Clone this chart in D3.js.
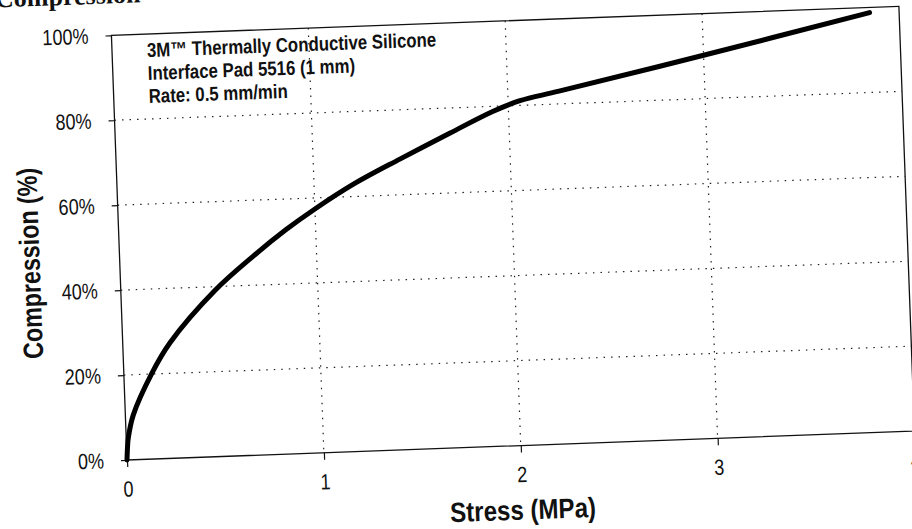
<!DOCTYPE html>
<html>
<head>
<meta charset="utf-8">
<script src="https://cdn.jsdelivr.net/npm/d3@7"></script>
<style>
  body { margin: 0; background: #fff; }
  svg { display: block; }
  .tick text { font-family: "Liberation Sans Narrow", "Arial Narrow", "Liberation Sans", sans-serif; font-size: 22px; fill: #111; }
  .tick line { stroke: #111; stroke-width: 1.2; }
  .grid line { stroke: #222; stroke-width: 1.2; stroke-dasharray: 1.5 6; }
  .axis-label { font-family: "Liberation Sans Narrow", "Arial Narrow", "Liberation Sans", sans-serif; font-weight: bold; font-size: 28px; fill: #111; }
  .note { font-family: "Liberation Sans Narrow", "Arial Narrow", "Liberation Sans", sans-serif; font-weight: bold; font-size: 20px; fill: #111; }
</style>
</head>
<body>
<div id="chart-container"></div>
<script>
// values
const stress = [0, 0.005, 0.01, 0.04, 0.14, 0.24, 0.48, 0.68, 0.85, 1.0, 1.2, 1.44, 1.70, 1.92, 2.06, 2.26, 3.0, 3.85];
const compression = [0, 3, 5, 10.5, 20, 27.2, 39.2, 46.9, 52.8, 57.4, 62.9, 68.4, 74.1, 78.8, 81.1, 83, 90.2, 98.8];
const stressTicks = [0, 1, 2, 3, 4];
const compressionTicks = [0, 20, 40, 60, 80, 100];
const noteLines = ["3M\u2122 Thermally Conductive Silicone", "Interface Pad 5516 (1 mm)", "Rate: 0.5 mm/min"];

// chart size
const margin = {top: 35, right: 0, bottom: 69, left: 127};
const width = 788;
const height = 425;

// the fonts are condensed in the scan; squeeze the text to match
function narrow(sel, k) {
  sel.each(function() {
    const len = this.getComputedTextLength();
    d3.select(this)
      .attr("textLength", len * k)
      .attr("lengthAdjust", "spacingAndGlyphs");
  });
}

const svg = d3.select("#chart-container")
  .append("svg")
    .attr("width", 912)
    .attr("height", 529);

// the scan is a little tilted, so turn the whole chart round the origin
const chart = svg.append("g")
    .attr("transform", `rotate(-2.1, ${margin.left}, ${margin.top + height})`)
  .append("g")
    .attr("transform", `translate(${margin.left}, ${margin.top})`);

const xScale = d3.scaleLinear().domain([0, 4]).range([0, width]);
const yScale = d3.scaleLinear().domain([0, 100]).range([height, 0]);

// dotted grid
const grid = chart.append("g").attr("class", "grid");
grid.selectAll(".vgrid")
  .data(stressTicks.filter(d => d > 0 && d < 4))
  .join("line")
    .attr("x1", d => xScale(d)).attr("x2", d => xScale(d))
    .attr("y1", 0).attr("y2", height);
grid.selectAll(".hgrid")
  .data(compressionTicks.filter(d => d > 0 && d < 100))
  .join("line")
    .attr("x1", 0).attr("x2", width)
    .attr("y1", d => yScale(d)).attr("y2", d => yScale(d));

// axes
const xAxis = d3.axisBottom(xScale)
  .tickValues(stressTicks)
  .tickSize(7)
  .tickPadding(14)
  .tickFormat(d3.format("d"));
chart.append("g")
  .attr("transform", `translate(0, ${height})`)
  .call(xAxis)
  .call(g => g.select(".domain").remove())
  .call(g => narrow(g.selectAll("text"), 0.82));

const yAxis = d3.axisLeft(yScale)
  .tickValues(compressionTicks)
  .tickSize(6)
  .tickPadding(17)
  .tickFormat(d => d + "%");
chart.append("g")
  .call(yAxis)
  .call(g => g.select(".domain").remove())
  .call(g => narrow(g.selectAll("text"), 0.82));

// frame
chart.append("rect")
  .attr("width", width)
  .attr("height", height)
  .attr("fill", "none")
  .attr("stroke", "#111")
  .attr("stroke-width", 1.3);

// curve
const line = d3.line()
  .x((d, i) => xScale(stress[i]))
  .y(d => yScale(d))
  .curve(d3.curveCatmullRom.alpha(0.5));
chart.append("path")
  .datum(compression)
  .attr("fill", "none")
  .attr("stroke", "#000")
  .attr("stroke-width", 5)
  .attr("stroke-linecap", "round")
  .attr("d", line);

// note in the corner
chart.selectAll(".note")
  .data(noteLines)
  .join("text")
    .attr("class", "note")
    .attr("x", 35)
    .attr("y", (d, i) => 23 + i * 23)
    .text(d => d)
    .call(sel => narrow(sel, 0.84));

// axis titles
chart.append("text")
  .attr("class", "axis-label")
  .attr("transform", "rotate(-90)")
  .attr("x", -225)
  .attr("y", -80)
  .style("text-anchor", "middle")
  .text("Compression (%)")
  .call(sel => narrow(sel, 0.83));
chart.append("text")
  .attr("class", "axis-label")
  .attr("x", 394)
  .attr("y", 499)
  .style("text-anchor", "middle")
  .text("Stress (MPa)")
  .call(sel => narrow(sel, 0.86));

// cut-off title above the chart
chart.append("text")
  .attr("x", -115)
  .attr("y", -32)
  .style("font-family", "'Liberation Serif', serif")
  .style("font-weight", "bold")
  .style("font-size", "26px")
  .style("fill", "#111")
  .text("Compression");
</script>
</body>
</html>
